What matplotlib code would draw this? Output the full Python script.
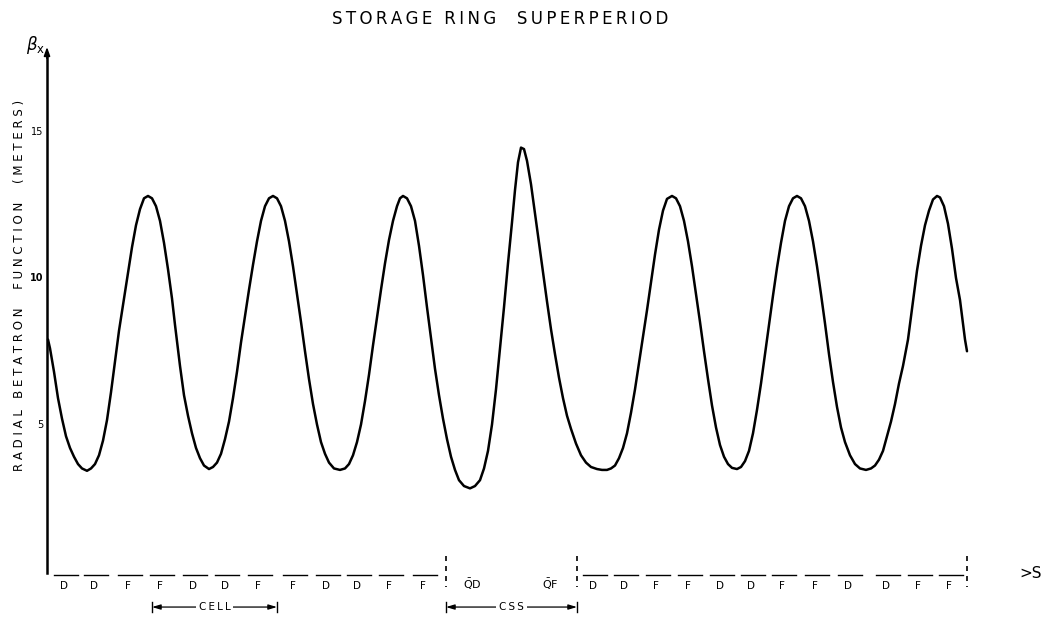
import matplotlib.pyplot as plt

# beta_x (metres); s is in the drawing's own length units
s_pts = [
    48, 50, 54, 58, 62, 66, 70, 74, 78, 82, 87,
    91, 95, 99, 103, 107, 111, 115, 119, 124, 128, 132, 136, 140, 144, 148,
    152, 156, 160, 164, 168, 172, 175, 180, 184, 188, 192, 196, 200, 204, 209,
    213, 217, 221, 225, 229, 233, 237, 241, 245, 249, 253, 257, 261, 265, 269, 273,
    277, 281, 285, 289, 293, 297, 301, 305, 309, 313, 317, 321, 325, 329, 334, 340,
    345, 349, 353, 357, 361, 365, 369, 373, 377, 381, 385, 389, 393, 397, 400, 403,
    407, 411, 415, 419, 423, 427, 431, 435, 439, 443, 447, 451, 455, 459, 464, 470,
    475, 480, 484, 488, 492, 496, 500, 504, 508, 512, 515, 518, 521,
    524, 527, 531, 535, 539, 543, 547, 551, 555, 559, 563, 567, 571, 576, 581, 586, 591, 597, 602, 607,
    611, 615, 619, 623, 627, 631, 635, 639, 643, 647, 651, 655, 659, 663, 667, 672,
    676, 680, 684, 688, 692, 696, 700, 704, 708, 712, 716, 720, 724, 728, 732, 737,
    741, 745, 749, 753, 757, 761, 765, 769, 773, 777, 781, 785, 789, 793, 797,
    801, 805, 809, 813, 817, 821, 825, 829, 833, 837, 841, 845, 850, 855, 860, 866,
    871, 875, 879, 883, 887, 891, 895, 899, 903, 908, 913, 917, 921, 925, 929, 933, 937,
    940, 944, 948, 952, 956, 960, 963, 965, 967,
]
beta_pts = [
    7.9, 7.6, 6.8, 5.9, 5.2, 4.6, 4.2, 3.9, 3.65, 3.5, 3.42,
    3.5, 3.65, 3.95, 4.45, 5.15, 6.1, 7.15, 8.2, 9.3, 10.2, 11.05, 11.8, 12.35, 12.72, 12.8,
    12.72, 12.45, 11.95, 11.2, 10.3, 9.3, 8.4, 7.0, 6.0, 5.3, 4.7, 4.2, 3.85, 3.6, 3.48,
    3.55, 3.7, 4.0, 4.5, 5.1, 5.9, 6.8, 7.8, 8.7, 9.6, 10.45, 11.25, 11.95, 12.45, 12.72, 12.8,
    12.72, 12.45, 11.95, 11.25, 10.4, 9.45, 8.5, 7.5, 6.55, 5.7, 5.0, 4.4, 4.0, 3.7, 3.5, 3.45,
    3.5, 3.65, 3.95, 4.4, 5.0, 5.8, 6.7, 7.7, 8.65, 9.6, 10.5, 11.3, 11.95, 12.45, 12.72, 12.8,
    12.72, 12.45, 11.95, 11.1, 10.1, 9.0, 7.95, 6.9, 6.0, 5.2, 4.5, 3.9, 3.45, 3.1, 2.9, 2.82,
    2.9, 3.1, 3.5, 4.1, 5.0, 6.2, 7.6, 9.0, 10.5, 11.9, 13.0, 13.95, 14.45,
    14.4, 14.0, 13.2, 12.2, 11.2, 10.2, 9.2, 8.25, 7.4, 6.6, 5.9, 5.3, 4.85, 4.35, 3.95, 3.7, 3.55, 3.48, 3.45, 3.45,
    3.5, 3.6, 3.85, 4.2, 4.7, 5.4, 6.2, 7.1, 8.0, 8.9, 9.85, 10.8, 11.65, 12.3, 12.7, 12.8,
    12.72, 12.45, 11.95, 11.25, 10.4, 9.45, 8.5, 7.5, 6.55, 5.65, 4.9, 4.3, 3.9, 3.65, 3.52, 3.48,
    3.55, 3.75, 4.1, 4.7, 5.5, 6.4, 7.4, 8.4, 9.4, 10.35, 11.2, 11.95, 12.45, 12.72, 12.8,
    12.72, 12.45, 11.95, 11.25, 10.4, 9.45, 8.45, 7.4, 6.45, 5.6, 4.9, 4.4, 3.95, 3.65, 3.5, 3.45,
    3.5, 3.6, 3.8, 4.1, 4.6, 5.1, 5.7, 6.4, 7.0, 7.9, 9.2, 10.25, 11.1, 11.8, 12.3, 12.68, 12.8,
    12.75, 12.45, 11.85, 11.0, 10.0, 9.25, 8.45, 7.9, 7.5,
]

# lattice: magnet names and positions along s
magnet_names = ["D", "D", "F", "F", "D", "D", "F", "F", "D", "D", "F", "F"]
cells_a_s = [66, 96, 130, 162, 195, 227, 260, 295, 328, 359, 391, 425]
cells_b_s = [595, 626, 658, 690, 722, 753, 784, 817, 850, 888, 920, 951]
css_names = [r"$\bar{\rm Q}$D", r"$\bar{\rm Q}$F"]
css_s = [472, 550]
section_marks = [446, 577, 967]
cell_span = (152, 277)
css_span = (446, 577)

y_ticks = [5, 10, 15]


def spaced(text, sep="\u2009"):
    return sep.join(text)


fig = plt.figure(figsize=(10.45, 6.19), dpi=100)
ax = fig.add_axes([0, 0, 1, 1])
ax.set_xlim(0, 1045)
ax.set_ylim(-1.638, 19.488)
ax.axis("off")

ax.plot(s_pts, beta_pts, color="black", lw=1.8, solid_capstyle="round",
        solid_joinstyle="round")

# vertical axis with arrow
ax.plot([47, 47], [-0.07, 17.6], color="black", lw=1.8)
ax.annotate(
    "", xy=(47, 17.98), xytext=(47, 17.4),
    arrowprops=dict(arrowstyle="-|>,head_length=0.5,head_width=0.18", color="black", lw=1.2),
)
ax.text(36, 17.95, r"$\beta_{\rm x}$", fontsize=12, ha="center", va="center")

for t in y_ticks:
    ax.text(43, t, str(t), fontsize=7, ha="right", va="center",
            fontweight="bold" if t == 10 else "normal")

ax.text(20, 9.75, spaced("RADIAL BETATRON  FUNCTION  (METERS)", " "), rotation=90,
        fontsize=8.5, ha="center", va="center")

ax.text(500, 18.85, spaced("STORAGE RING  SUPERPERIOD"), fontsize=12,
        ha="center", va="center")

# magnet bars and names along the s axis
seg_y = -0.14
for name, s in zip(magnet_names * 2, cells_a_s + cells_b_s):
    ax.plot([s - 12, s + 12], [seg_y, seg_y], color="black", lw=1.0)
    ax.text(s - 2, -0.5, name, fontsize=7.5, ha="center", va="center")
for name, s in zip(css_names, css_s):
    ax.text(s, -0.45, name, fontsize=8, ha="center", va="center")

for s in section_marks:
    ax.plot([s, s], [0.5, -0.55], color="black", lw=1.2, ls=(0, (3, 3)))

ax.text(1031, -0.1, ">S", fontsize=11, ha="center", va="center")

# CELL and CSS span markers
for (a, b), label in [(cell_span, "CELL"), (css_span, "CSS")]:
    y = -1.23
    ax.annotate(
        "", xy=(a, y), xytext=(b, y),
        arrowprops=dict(arrowstyle="<|-|>,head_length=0.5,head_width=0.15",
                        color="black", lw=0.9, shrinkA=0, shrinkB=0),
    )
    ax.plot([a, a], [y - 0.18, y + 0.18], color="black", lw=1.0)
    ax.plot([b, b], [y - 0.18, y + 0.18], color="black", lw=1.0)
    ax.text((a + b) / 2, y, spaced(label), fontsize=7.5, ha="center", va="center",
            bbox=dict(boxstyle="square,pad=0.25", facecolor="white", edgecolor="none"))

fig.savefig("out.png", dpi=100)
